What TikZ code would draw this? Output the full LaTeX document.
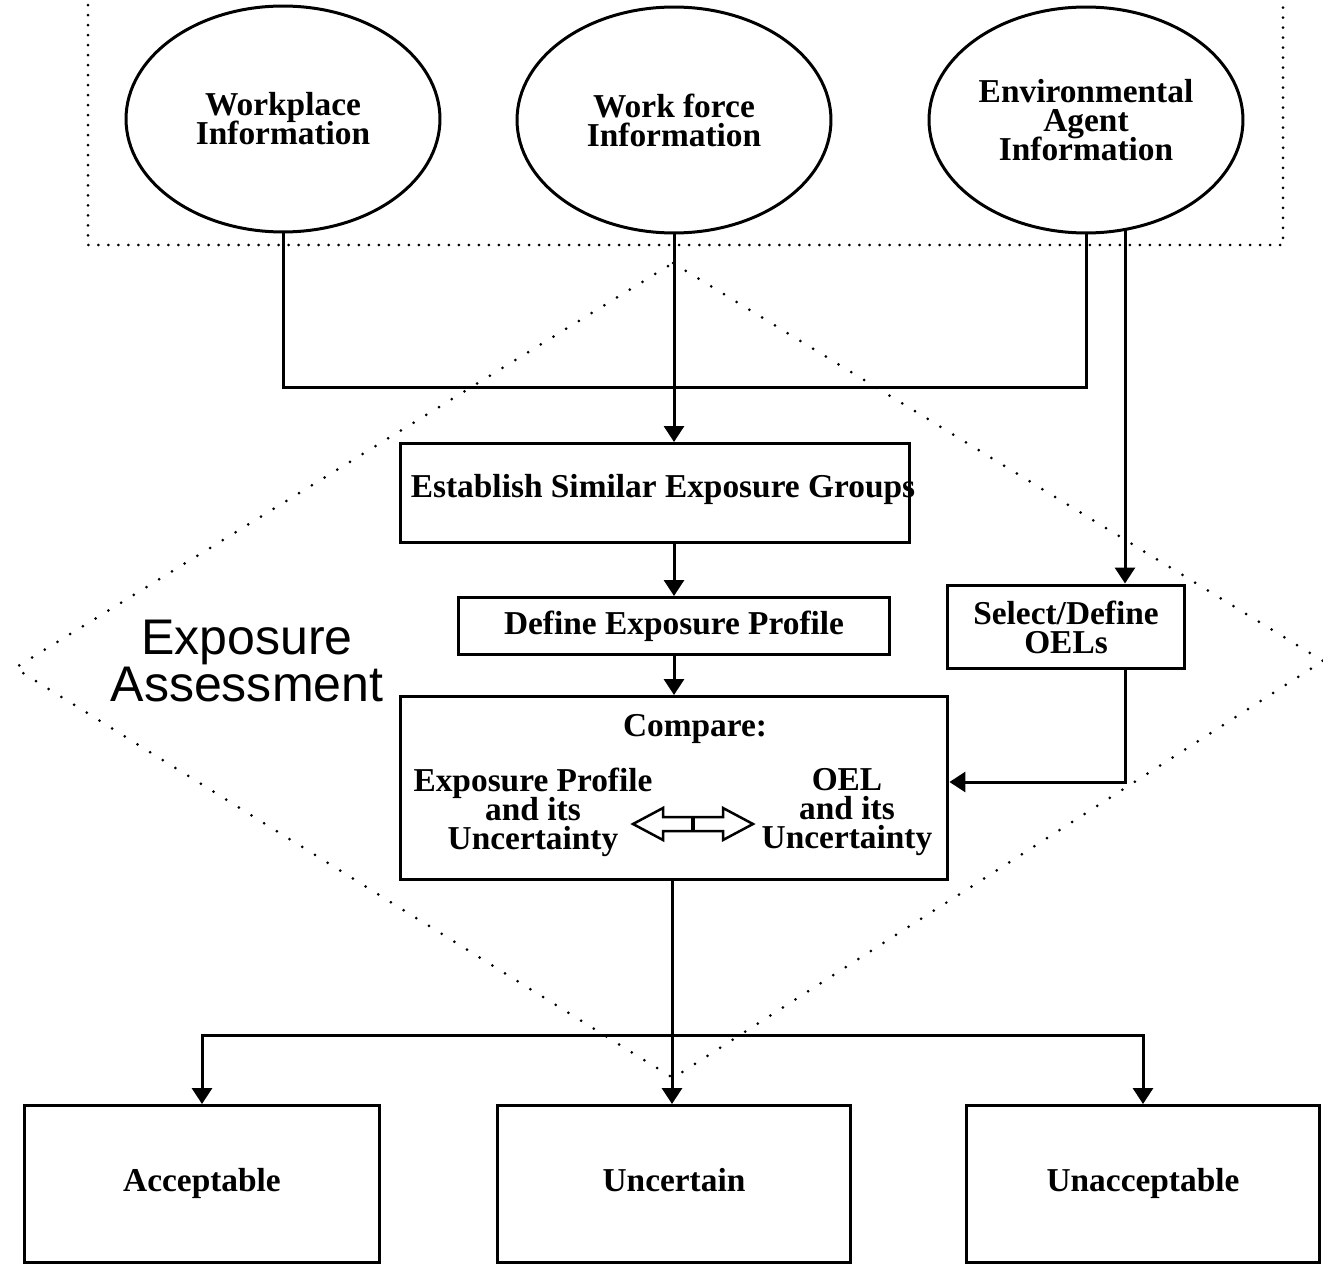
\documentclass[tikz,border=0pt]{standalone}
\usepackage{fontspec}
\setmainfont{Liberation Serif}
\setsansfont{Liberation Sans}
\usetikzlibrary{shapes.geometric,arrows.meta}
\newcommand{\tightlines}{\lineskiplimit=-20pt\relax}

\begin{document}
\begin{tikzpicture}[x=0.02cm, y=-0.02cm, line width=0.06cm,
    every node/.style={font=\fontsize{19}{16.5}\selectfont\bfseries\tightlines, align=center},
    info/.style={ellipse, draw, minimum width=6.28cm, minimum height=4.52cm, inner sep=0pt},
    box/.style={rectangle, draw, inner sep=0pt},
    outcome/.style={box, minimum height=3.14cm, text height=13pt, text depth=4pt},
    flow/.style={-{Triangle[length=0.32cm,width=0.4cm]}},
    dotrect/.style={line cap=round, dash pattern=on 0pt off 5.7pt},
    dotdiam/.style={line cap=round, dash pattern=on 0pt off 8.5pt}]
    \useasboundingbox (0,0) rectangle (1323,1264);

    \draw[dotrect] (88,-5) -- (88,245) -- (1283,245) -- (1283,-5);
    \draw[dotdiam] (673,263) -- (1323,661) -- (673,1078) -- (15,668) -- cycle;

    \node[info] (wp) at (283,119) {Workplace\\Information};
    \node[info] (wf) at (674,120) {Work force\\Information};
    \node[info] (env) at (1086,120) {Environmental\\Agent\\Information};

    \node[box, minimum width=10.2cm, minimum height=1.98cm] (esg) at (655,493) {};
    \node (esgtext) at (663,489) {Establish Similar Exposure Groups};
    \node[box, minimum width=8.64cm, minimum height=1.14cm] (dep) at (674,626) {Define Exposure Profile};
    \node[box, minimum width=4.74cm, minimum height=1.68cm] (oel) at (1066,627) {Select/Define\\OELs};
    \node[box, minimum width=10.96cm, minimum height=3.66cm] (cmp) at (674,788) {};
    \node (cmptitle) at (695,729) {Compare:};
    \node (cmpleft) at (533,812) {Exposure Profile\\and its\\Uncertainty};
    \node (cmpright) at (847,812) {OEL\\and its\\Uncertainty};

    \node[outcome, minimum width=7.1cm] (acc) at (202,1184) {Acceptable};
    \node[outcome, minimum width=7.08cm] (unc) at (674,1184) {Uncertain};
    \node[outcome, minimum width=7.06cm] (unacc) at (1143,1184) {Unacceptable};

    \node[font=\fontsize{28.5}{27}\selectfont\sffamily\tightlines] (ea) at (247,661) {Exposure\\Assessment};

    \coordinate (join) at (674,387);
    \coordinate (envout) at (1125,230);
    \coordinate (oelin) at (1125,782);
    \coordinate (split) at (672,1035);

    \draw (wp.south) |- (join);
    \draw (env.south) |- (join);
    \draw[flow] (wf.south) -- (wf.south |- esg.north);
    \draw[flow] (envout) -- (envout |- oel.north);
    \draw[flow] (esg.south -| dep.north) -- (dep.north);
    \draw[flow] (dep.south) -- (dep.south |- cmp.north);
    \draw[flow] (oel.south -| oelin) -- (oelin) -- (oelin -| cmp.east);
    \draw[flow] (cmp.south -| split) -- (split |- unc.north);
    \draw[flow] (split) -| (acc.north);
    \draw[flow] (split) -| (unacc.north);

    % hollow double arrow in the compare box
    \draw[line width=0.05cm] (633,824) -- (663,808) -- (663,817) -- (723,817) -- (723,808)
        -- (753,824) -- (723,840) -- (723,831) -- (663,831) -- (663,840) -- cycle;
    \draw[line width=0.07cm] (693,817) -- (693,831);
\end{tikzpicture}
\end{document}
